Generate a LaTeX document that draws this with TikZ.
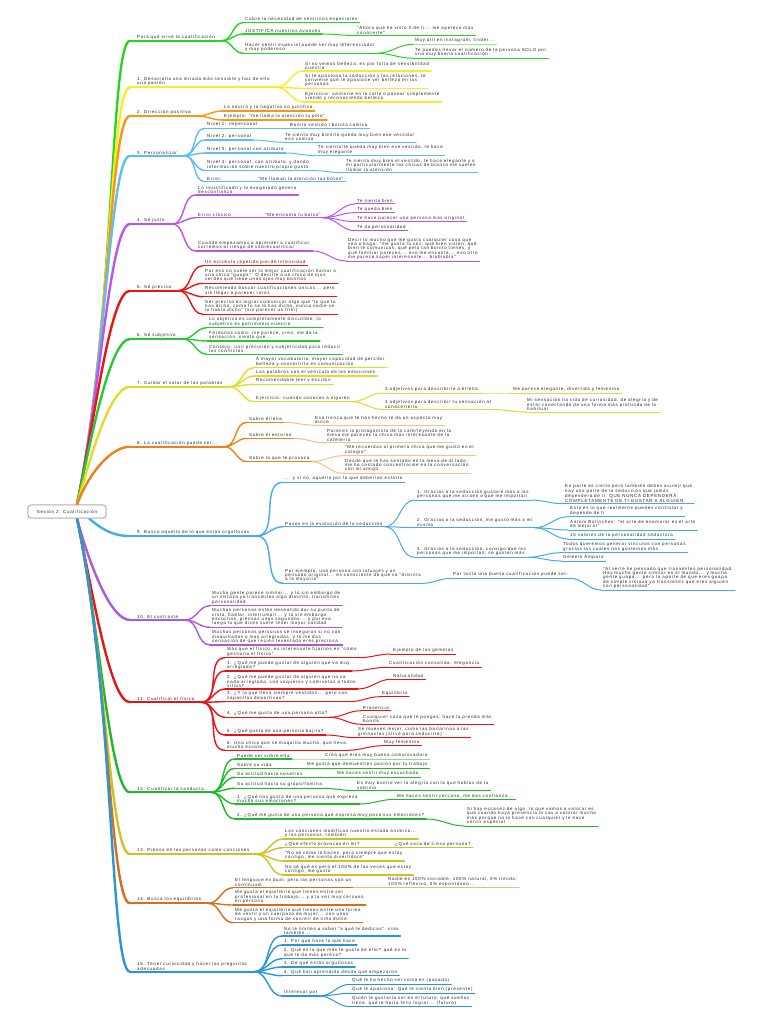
\documentclass[tikz,border=0pt]{standalone}
\usepackage{fontspec}
\setmainfont{Liberation Sans}[LetterSpace=17]
\newcommand\tinytext{\fontsize{4.4}{4.4}\selectfont}
\definecolor{ink}{RGB}{35,35,35}
\definecolor{c0}{RGB}{35,215,35}
\definecolor{c1}{RGB}{250,235,40}
\definecolor{c2}{RGB}{250,150,20}
\definecolor{c3}{RGB}{95,190,240}
\definecolor{c4}{RGB}{185,85,235}
\definecolor{c5}{RGB}{235,20,20}
\definecolor{c6}{RGB}{40,200,50}
\definecolor{c7}{RGB}{225,220,40}
\definecolor{c8}{RGB}{235,130,20}
\definecolor{c9}{RGB}{70,170,230}
\definecolor{c10}{RGB}{170,90,220}
\definecolor{c11}{RGB}{230,20,20}
\definecolor{c12}{RGB}{30,185,40}
\definecolor{c13}{RGB}{205,195,35}
\definecolor{c14}{RGB}{215,110,25}
\definecolor{c15}{RGB}{40,150,215}
\tikzset{
  box/.style={anchor=south west, align=left, inner ysep=1.2pt, inner xsep=2pt, text=ink, font=\tinytext},
  sec/.style={box, inner xsep=7pt, append after command={(\tikzlastnode.south west) edge[draw=#1, line width=2pt, line cap=round] (\tikzlastnode.south east)}},
  sub/.style={box, append after command={(\tikzlastnode.south west) edge[draw=#1, line width=1.3pt, line cap=round] (\tikzlastnode.south east)}},
  leaf/.style={box, append after command={(\tikzlastnode.south west) edge[draw=#1, line width=1pt, line cap=round] (\tikzlastnode.south east)}},
  core/.style={draw=gray!70, fill=white, rounded corners=3pt, line width=0.8pt, minimum width=78pt, minimum height=13pt, text=ink, font=\tinytext},
  trunk/.style={draw=#1, line width=2.4pt, in=180, in max distance=20pt},
  link/.style={draw=#1, line width=1.4pt, out=0, in=180},
  twig/.style={draw=#1, line width=1pt, out=0, in=180}
}
\begin{document}
\begin{tikzpicture}[x=1pt, y=-1pt]
\useasboundingbox (0,0) rectangle (768,1024);
\node[core] (root) at (67,511.5) {Sesión 2: Cualificación};
\coordinate (up) at ([xshift=10pt]root.north);
\coordinate (dn) at ([xshift=10pt]root.south);
\coordinate (dn9) at ([xshift=22pt]root.south);

% 0
\node[sec=c0] (s0) at (130,40.7) {Para qué sirve la cualificación};
\node[sub=c0] (s0a) at (243,22.7) {Cubre la necesidad de sentirnos especiales};
\node[sub=c0] (s0b) at (243,34) {JUSTIFICA nuestros avances};
\node[leaf=c0] (s0ba) at (355,35.5) {"Ahora que he visto X de ti... me apetece más\\conocerte"};
\node[sub=c0] (s0c) at (243,53.3) {Hacer sentir especial puede ser muy diferenciador\\y muy poderoso};
\node[leaf=c0!50!white] (s0ca) at (413,44.3) {Muy útil en instagram, tinder...};
\node[leaf=c0] (s0cb) at (413,58.3) {Te puedes llevar el número de la persona SOLO por\\una muy buena cualificación};
% 1
\node[sec=c1] (s1) at (130,87.3) {1. Desarrolla una mirada más sensible y haz de ello\\una pasión};
\node[sub=c1] (s1a) at (303,71) {Si no vemos belleza, es por falta de sensibilidad\\nuestra};
\node[sub=c1] (s1b) at (303,88.3) {Si te apasiona la seducción y las relaciones, te\\conviene que te apasione ver belleza en las\\personas};
\node[sub=c1] (s1c) at (303,102) {Ejercicio: sentarte en la calle o pasear simplemente\\viendo y reconociendo belleza};
% 2
\node[sec=c2] (s2) at (130,116) {2. Dirección positiva};
\node[sub=c2] (s2a) at (222,111) {Lo neutro y lo negativo no justifica};
\node[sub=c2] (s2b) at (222,120) {Ejemplo: "me llama la atención tu pelo"};
% 3
\node[sec=c3] (s3) at (130,155.7) {3. Personalizar};
\node[sub=c3] (s3a) at (205,128.3) {Nivel 1: impersonal};
\node[leaf=c3] (s3aa) at (288,128.3) {Bonito vestido / bonita camisa};
\node[sub=c3] (s3b) at (205,140) {Nivel 2: personal};
\node[leaf=c3] (s3ba) at (283,142.3) {Te sienta muy bien/te queda muy bien ese vestido/\\esa camisa};
\node[sub=c3] (s3c) at (205,153) {Nivel 3: personal con atributo};
\node[leaf=c3] (s3ca) at (316,155.7) {Te sienta/te queda muy bien ese vestido, te hace\\muy elegante};
\node[sub=c3] (s3d) at (205,170.5) {Nivel 4: personal, con atributo, y dando\\información sobre nuestro propio gusto};
\node[leaf=c3] (s3da) at (344,172.7) {Te sienta muy bien el vestido, te hace elegante y a\\mí particularmente las chicas de blanco me suelen\\llamar la atención};
\node[sub=c3] (s3e) at (205,181.7) {Error:};
\node[leaf=c3] (s3ea) at (256,181.7) {"Me llaman la atención tus botas"};
% 4
\node[sec=c4] (s4) at (130,224) {4. Sé justo};
\node[sub=c4] (s4a) at (196,195) {Lo injustificado y lo exagerado genera\\desconfianza};
\node[sub=c4] (s4b) at (196,217.7) {Error clásico};
\node[leaf=c4] (s4ba) at (263,217.7) {"Me encanta tu bolso"};
\node[leaf=c4] (s4baa) at (355,204) {Te sienta bien};
\node[leaf=c4] (s4bab) at (355,212.7) {Te queda bien};
\node[leaf=c4] (s4bac) at (355,221.7) {Te hace parecer una persona más original};
\node[leaf=c4] (s4bad) at (355,230.7) {Te da personalidad};
\node[sub=c4] (s4c) at (196,251) {Cuando empezamos a aprender a cualificar,\\corremos el riesgo de sobrecualificar};
\node[leaf=c4] (s4ca) at (346,261) {Decir lo mucho que me gusta cualquier cosa que\\vea o haga: "me gusta tu voz, qué bien visten, qué\\bien te comunicas, qué pelo tan bonito tienes, y\\qué familiar pareces... eso me encanta... eso otro\\me parece súper interesante... blablabla"};
% 5
\node[sec=c5] (s5) at (130,290.7) {5. Sé preciso};
\node[sub=c5] (s5a) at (203,265.7) {Un estímulo repetido pierde intensidad};
\node[sub=c5] (s5b) at (203,283.3) {Por eso no suele ser la mejor cualificación llamar a\\una chica "guapa". O decirle a un chico de ojos\\verdes que tiene unos ojos muy bonitos};
\node[sub=c5] (s5c) at (203,296.7) {Recomiendo buscar cualificaciones únicas... pero\\sin llegar a parecer raros};
\node[sub=c5] (s5d) at (203,314.3) {Ser preciso es lograr comunicar algo que "lo que tú\\has dicho, como tú se lo has dicho, nunca nadie se\\lo había dicho" (sin parecer un friki)};
% 6
\node[sec=c6] (s6) at (130,339) {6. Sé subjetivo};
\node[sub=c6] (s6a) at (207,327.7) {Lo objetivo es completamente discutible, lo\\subjetivo es patrimonio nuestro};
\node[sub=c6] (s6b) at (207,341) {Fórmulas como: me parece, creo, me da la\\sensación, siento que...};
\node[sub=c6] (s6c) at (207,354.3) {Consejo: unir precisión y subjetividad para reducir\\los conflictos};
% 7
\node[sec=c7] (s7) at (130,386.7) {7. Cuidar el valor de las palabras};
\node[sub=c7] (s7a) at (254,367.7) {A mayor vocabulario, mayor capacidad de percibir\\belleza y convertirla en comunicación};
\node[sub=c7] (s7b) at (254,376) {Las palabras son el vehículo de las emociones};
\node[sub=c7] (s7c) at (254,384.3) {Recomendable leer y escribir};
\node[sub=c7] (s7d) at (254,401.7) {Ejercicio: cuando conoces a alguien};
\node[leaf=c7] (s7da) at (383,393) {3 adjetivos para describirle a él/ella};
\node[leaf=c7] (s7daa) at (511,393) {Me parece elegante, divertida y femenina};
\node[leaf=c7] (s7db) at (383,409.5) {3 adjetivos para describir tu sensación al\\conocerle/la};
\node[leaf=c7] (s7dba) at (525,412) {Mi sensación ha sido de curiosidad, de alegría y de\\estar conectando de una forma más profunda de lo\\habitual};
% 8
\node[sec=c8] (s8) at (130,446.7) {8. La cualificación puede ser...};
\node[sub=c8] (s8a) at (247,422.3) {Sobre él/ella};
\node[leaf=c8!50!white] (s8aa) at (313,425) {Esa trenza que te has hecho te da un aspecto muy\\dulce};
\node[sub=c8] (s8b) at (247,438.3) {Sobre el entorno};
\node[leaf=c8!50!white] (s8ba) at (325,442.7) {Pareces la protagonista de la cafe/leyendo en la\\mesa me pareces la chica más interesante de la\\cafetería};
\node[sub=c8] (s8c) at (247,461.7) {Sobre lo que te provoca};
\node[leaf=c8!50!white] (s8ca) at (343,455.7) {"Me recuerdas al primera chica que me gustó en el\\colegio"};
\node[leaf=c8!50!white] (s8cb) at (343,473.3) {Desde que te has sentado en la mesa de al lado,\\me ha costado concentrarme en la conversación\\con mi amigo};
% 9
\node[sec=c9] (s9) at (130,536) {9. Busca aquello de lo que están orgullosos};
\node[sub=c9] (s9a) at (283,482.3) {... y si no, aquello por lo que deberían estarlo};
\node[sub=c9] (s9b) at (283,526.7) {Pasos en la evolución de la seducción};
\node[leaf=c9] (s9ba) at (415,500) {1. Gracias a la seducción gustaré más a las\\personas que me atraen o que me importan};
\node[leaf=c9] (s9baa) at (563,503.7) {En parte es cierto pero también debes asumir que\\hay una parte de la seducción que jamás\\dependerá de ti. QUE NUNCA DEPENDERÁ\\COMPLETAMENTE DE TI GUSTAR A ALGUIEN};
\node[leaf=c9] (s9bb) at (415,527.7) {2. Gracias a la seducción, me gusto más a mí\\mismo};
\node[leaf=c9] (s9bba) at (568,516.7) {Esto es lo que realmente puedes controlar y\\depende de ti};
\node[leaf=c9] (s9bbb) at (568,530) {Antoni Bolinches: "el arte de enamorar es el arte\\de mejorar"};
\node[leaf=c9] (s9bbc) at (568,539) {15 valores de la personalidad seductora};
\node[leaf=c9] (s9bc) at (415,557.3) {3. Gracias a la seducción, consigo que las\\personas que me importan, se gusten más};
\node[leaf=c9] (s9bca) at (561,552.7) {Todos queremos generar vínculos con personas\\gracias las cuales nos gustemos más};
\node[leaf=c9] (s9bcb) at (561,561) {Gemelo Amparo};
\node[sub=c9] (s9c) at (283,583.3) {Por ejemplo, una persona con tatuajes y un\\pensado original... es consciente de que va "distinta\\a la mayoría"};
\node[leaf=c9] (s9ca) at (451,578.3) {Por tanto una buena cualificación puede ser:};
\node[leaf=c9] (s9caa) at (601,590) {"Al verte he pensado que transmites personalidad.\\Hay mucha gente similar en el mundo... y mucha\\gente guapa... pero tú aparte de que eres guapa\\de simple vistazo ya transmites que eres alguien\\con personalidad"};
% 10
\node[sec=c10] (s10) at (130,620) {10. El contraste};
\node[sub=c10] (s10a) at (210,605.7) {Mucha gente parece similar... y tú sin embargo de\\un vistazo ya transmites algo distinto, transmites\\personalidad};
\node[sub=c10] (s10b) at (210,627.3) {Muchas personas están deseando dar su punto de\\vista, hablar, interrumpir... y tú sin embargo\\escuchas, piensas unos segundos... y por eso\\luego lo que dices suele tener mayor calidad};
\node[sub=c10] (s10c) at (210,645) {Muchas personas personas se inseguras si no van\\maquilladas o muy arregladas, y tú me das\\sensación de que recién levantada eres preciosa};
% 11
\node[sec=c11] (s11) at (130,702.3) {11. Cualificar el físico};
\node[sub=c11] (s11a) at (225,657.7) {Más que el físico, es interesante fijarnos en "cómo\\gestiona el físico"};
\node[leaf=c11] (s11aa) at (391,654) {Ejemplo de las gemelas};
\node[sub=c11] (s11b) at (225,671) {1. ¿Qué me puede gustar de alguien que va muy\\arreglada?};
\node[leaf=c11] (s11ba) at (387,667.3) {Cualificación consolida: elegancia};
\node[sub=c11] (s11c) at (225,689) {2. ¿Qué me puede gustar de alguien que no va\\nada arreglada, con vaqueros y camisetas a todos\\sitios?};
\node[leaf=c11] (s11ca) at (391,679.3) {Naturalidad};
\node[sub=c11] (s11d) at (225,701.7) {3. ¿Y la que lleva siempre vestidos... pero con\\zapatillas deportivas?};
\node[leaf=c11] (s11da) at (380,696.7) {Equilibrio};
\node[sub=c11] (s11e) at (225,717.3) {4. ¿Qué me gusta de una persona alta?};
\node[leaf=c11] (s11ea) at (361,710.7) {Presencia};
\node[leaf=c11] (s11eb) at (361,724.3) {Cualquier cosa que le pongas, hace la prenda más\\bonita};
\node[sub=c11] (s11f) at (225,735) {5. ¿Qué gusta de una persona bajita?};
\node[leaf=c11] (s11fa) at (356,737.7) {Se mueven mejor, como las bailarinas o las\\gimnastas (sirve para seducirte)};
\node[sub=c11] (s11g) at (225,750.3) {6. Una chica que se maquilla mucho, que lleva\\mucho escote...};
\node[leaf=c11] (s11ga) at (382,745.7) {Muy femenino};
% 12
\node[sec=c12] (s12) at (130,792.3) {12. Cualificar la conducta};
\node[sub=c12] (s12a) at (235,759) {Puede ser sobre ella};
\node[leaf=c12!50!white] (s12aa) at (323,759) {Creo que eres muy buena comunicadora};
\node[sub=c12] (s12b) at (235,768.3) {Sobre su vida};
\node[leaf=c12] (s12ba) at (305,768.3) {Me gusta que demuestres pasión por tu trabajo};
\node[sub=c12] (s12c) at (235,777.3) {Su actitud hacia nosotros};
\node[leaf=c12] (s12ca) at (335,777.3) {Me haces sentir muy escuchado};
\node[sub=c12] (s12d) at (235,788.3) {Su actitud hacia su grupo/familia};
\node[leaf=c12] (s12da) at (355,790.7) {Es muy bonito ver la alegría con la que hablas de tu\\sobrino};
\node[sub=c12] (s12e) at (235,804) {1. ¿Qué nos gusta de una persona que expresa\\mucho sus emociones?};
\node[leaf=c12] (s12ea) at (395,799.3) {Me haces sentir cercano, me das confianza...};
\node[sub=c12] (s12f) at (235,819) {2. ¿Qué me gusta de una persona que expresa muy poco sus emociones?};
\node[leaf=c12] (s12fa) at (465,826) {Si hay escasez de algo, lo que vamos a valorar es\\que cuando haya presencia lo vas a valorar mucho\\más porque no lo hace con cualquier y le hace\\sentir especial};
% 13
\node[sec=c13] (s13) at (130,854.3) {13. Piensa en las personas como canciones};
\node[sub=c13] (s13a) at (283,839) {Las canciones modifican nuestro estado anímico...\\y las personas, también};
\node[sub=c13] (s13b) at (283,847.7) {¿Qué efecto provocas en mí?};
\node[leaf=c13] (s13ba) at (393,847.7) {¿Qué saca de ti esa persona?};
\node[sub=c13] (s13c) at (283,861) {"No sé cómo lo haces, pero siempre que estoy\\contigo, me siento divertido/a"};
\node[sub=c13] (s13d) at (283,875) {No sé qué es pero el 100\% de las veces que estoy\\contigo, me gusto};
% 14
\node[sec=c14] (s14) at (130,903.3) {14. Busca los equilibrios};
\node[sub=c14] (s14a) at (233,887.7) {El lenguaje es dual, pero las personas son un\\continuum};
\node[leaf=c14!50!white] (s14aa) at (386,887.7) {Nadie es 100\% sociable, 100\% natural, 0\% tímido,\\100\% reflexivo, 0\% espontáneo...};
\node[sub=c14] (s14b) at (233,905) {Me gusta el equilibrio que tienes entre ser\\profesional en tu trabajo... y a la vez muy cercano\\en persona};
\node[sub=c14] (s14c) at (233,922.7) {Me gusta el equilibrio que tienes entre una forma\\de vestir y un cuerpazo de mujer... con unos\\rasgos y una forma de sonreír de niña dulce};
% 15
\node[sec=c15] (s15) at (130,971.7) {15. Tener curiosidad y hacer las preguntas\\adecuadas};
\node[sub=c15] (s15a) at (282,936) {No te limites a saber "a qué te dedicas", sino\\también...};
\node[sub=c15] (s15b) at (282,945) {1. Por qué hace lo que hace};
\node[sub=c15] (s15c) at (282,958.7) {2. Qué es lo que más te gusta de ello? qué es lo\\que te da más pereza?};
\node[sub=c15] (s15d) at (282,967) {3. De qué están orgullosos};
\node[sub=c15] (s15e) at (282,975.7) {4. Qué han aprendido desde que empezaron};
\node[sub=c15] (s15f) at (282,996) {Interesar por};
\node[leaf=c15] (s15fa) at (350,984.3) {Qué le ha hecho ser como es (pasado)};
\node[leaf=c15] (s15fb) at (350,993.3) {Qué le apasiona. Qué le sienta bien (presente)};
\node[leaf=c15] (s15fc) at (350,1006.7) {Quién le gustaría ser en el futuro, qué sueños\\tiene, qué le haría feliz lograr... (futuro)};

% branches from the centre
\foreach \s/\k/\a in {s0/c0/78, s1/c1/78, s2/c2/78, s3/c3/78, s4/c4/78, s5/c5/78, s6/c6/78, s7/c7/74, s8/c8/70}
  \draw[trunk=\k] (up) to[out=\a] (\s.south west);
\foreach \s/\k/\a in {s10/c10/-75, s11/c11/-78, s12/c12/-78, s13/c13/-78, s14/c14/-78, s15/c15/-78}
  \draw[trunk=\k] (dn) to[out=\a] (\s.south west);
\draw[trunk=c9] (dn9) to[out=-40] (s9.south west);
\node[core] at (root) {Sesión 2: Cualificación};

% first level
\foreach \p/\c/\k in {s0/s0a/c0, s0/s0b/c0, s0/s0c/c0, s1/s1a/c1, s1/s1b/c1, s1/s1c/c1,
  s2/s2a/c2, s2/s2b/c2, s3/s3a/c3, s3/s3b/c3, s3/s3c/c3, s3/s3d/c3, s3/s3e/c3,
  s4/s4a/c4, s4/s4b/c4, s4/s4c/c4, s5/s5a/c5, s5/s5b/c5, s5/s5c/c5, s5/s5d/c5,
  s6/s6a/c6, s6/s6b/c6, s6/s6c/c6, s7/s7a/c7, s7/s7b/c7, s7/s7c/c7, s7/s7d/c7,
  s8/s8a/c8, s8/s8b/c8, s8/s8c/c8, s9/s9a/c9, s9/s9b/c9, s9/s9c/c9,
  s10/s10a/c10, s10/s10b/c10, s10/s10c/c10,
  s11/s11a/c11, s11/s11b/c11, s11/s11c/c11, s11/s11d/c11, s11/s11e/c11, s11/s11f/c11, s11/s11g/c11,
  s12/s12a/c12, s12/s12b/c12, s12/s12c/c12, s12/s12d/c12, s12/s12e/c12, s12/s12f/c12,
  s13/s13a/c13, s13/s13b/c13, s13/s13c/c13, s13/s13d/c13,
  s14/s14a/c14, s14/s14b/c14, s14/s14c/c14,
  s15/s15a/c15, s15/s15b/c15, s15/s15c/c15, s15/s15d/c15, s15/s15e/c15, s15/s15f/c15}
  \draw[link=\k] (\p.south east) to (\c.south west);

% deeper levels
\foreach \p/\c/\k in {s0b/s0ba/c0, s0c/s0ca/c0, s0c/s0cb/c0,
  s3a/s3aa/c3, s3b/s3ba/c3, s3c/s3ca/c3, s3d/s3da/c3, s3e/s3ea/c3,
  s4b/s4ba/c4, s4ba/s4baa/c4, s4ba/s4bab/c4, s4ba/s4bac/c4, s4ba/s4bad/c4, s4c/s4ca/c4,
  s7d/s7da/c7, s7d/s7db/c7, s7da/s7daa/c7, s7db/s7dba/c7,
  s8a/s8aa/c8!50!white, s8b/s8ba/c8!50!white, s8c/s8ca/c8!50!white, s8c/s8cb/c8!50!white,
  s9b/s9ba/c9, s9b/s9bb/c9, s9b/s9bc/c9, s9ba/s9baa/c9, s9bb/s9bba/c9, s9bb/s9bbb/c9, s9bb/s9bbc/c9,
  s9bc/s9bca/c9, s9bc/s9bcb/c9, s9c/s9ca/c9, s9ca/s9caa/c9,
  s11a/s11aa/c11, s11b/s11ba/c11, s11c/s11ca/c11, s11d/s11da/c11, s11e/s11ea/c11, s11e/s11eb/c11,
  s11f/s11fa/c11, s11g/s11ga/c11,
  s12a/s12aa/c12!50!white, s12b/s12ba/c12, s12c/s12ca/c12, s12d/s12da/c12, s12e/s12ea/c12, s12f/s12fa/c12,
  s13b/s13ba/c13, s14a/s14aa/c14!50!white,
  s15f/s15fa/c15, s15f/s15fb/c15, s15f/s15fc/c15}
  \draw[twig=\k] (\p.south east) to (\c.south west);
\end{tikzpicture}
\end{document}
